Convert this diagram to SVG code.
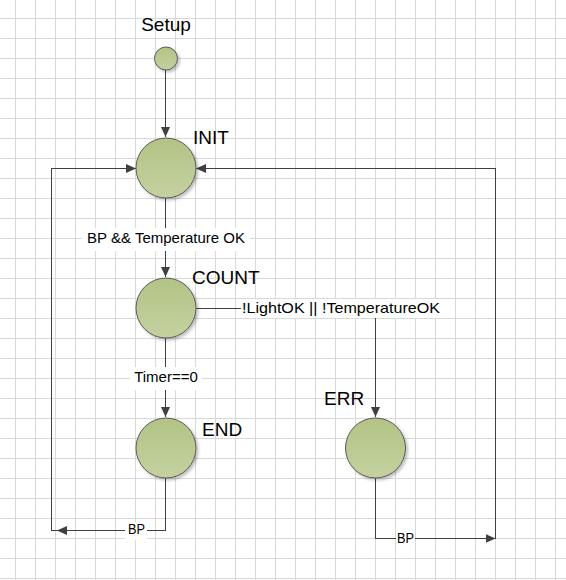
<svg xmlns="http://www.w3.org/2000/svg" width="566" height="580" viewBox="0 0 566 580">
<defs>
<style>
.grid{stroke:#d9d9d9;stroke-width:1;fill:none;shape-rendering:crispEdges}
.st{stroke:#5a5a5a;stroke-width:1;fill:url(#g);filter:url(#sh)}
.conn{stroke:#404040;stroke-width:1;fill:none;shape-rendering:crispEdges}
.nl{font-family:"Liberation Sans",Arial,sans-serif;font-size:19px;fill:#000}
.el{font-family:"Liberation Sans",Arial,sans-serif;font-size:15px;fill:#000}
.bg{fill:#fff}
</style>
<linearGradient id="g" x1="0" y1="0" x2="0" y2="1">
<stop offset="0" stop-color="#b3c385"/>
<stop offset="1" stop-color="#c4d1a0"/>
</linearGradient>
<filter id="sh" x="-30%" y="-30%" width="160%" height="160%">
<feDropShadow dx="2" dy="2" stdDeviation="1.5" flood-color="#000" flood-opacity="0.25"/>
</filter>
<marker id="arr" markerUnits="userSpaceOnUse" markerWidth="10" markerHeight="9" refX="10" refY="4.5" orient="auto">
<path d="M0,0 L10,4.5 L0,9 z" fill="#404040"/>
</marker>
</defs>
<rect width="566" height="580" fill="#fff"/>
<path class="grid" d="M15.5,0V580M35.5,0V580M55.5,0V580M75.5,0V580M95.5,0V580M115.5,0V580M135.5,0V580M155.5,0V580M175.5,0V580M195.5,0V580M215.5,0V580M235.5,0V580M255.5,0V580M275.5,0V580M295.5,0V580M315.5,0V580M335.5,0V580M355.5,0V580M375.5,0V580M395.5,0V580M415.5,0V580M435.5,0V580M455.5,0V580M475.5,0V580M495.5,0V580M515.5,0V580M535.5,0V580M555.5,0V580M0,18.5H566M0,38.5H566M0,58.5H566M0,78.5H566M0,98.5H566M0,118.5H566M0,138.5H566M0,158.5H566M0,178.5H566M0,198.5H566M0,218.5H566M0,238.5H566M0,258.5H566M0,278.5H566M0,298.5H566M0,318.5H566M0,338.5H566M0,358.5H566M0,378.5H566M0,398.5H566M0,418.5H566M0,438.5H566M0,458.5H566M0,478.5H566M0,498.5H566M0,518.5H566M0,538.5H566M0,558.5H566M0,578.5H566"/>
<g id="connectors">
<path class="conn" d="M165.5,69V137" marker-end="url(#arr)"/>
<path class="conn" d="M165.5,198V277" marker-end="url(#arr)"/>
<path class="conn" d="M165.5,338V417" marker-end="url(#arr)"/>
<path class="conn" d="M196,308.5H375.5V417" marker-end="url(#arr)"/>
<path class="conn" d="M165.5,478V530.5H57" marker-end="url(#arr)"/>
<path class="conn" d="M57,530.5H51.5V168.5H136" marker-end="url(#arr)"/>
<path class="conn" d="M375.5,478V538.5H495.5" marker-end="url(#arr)"/>
<path class="conn" d="M495.5,538.5V168.5H196" marker-end="url(#arr)"/>
<g id="label-init-count">
<rect class="bg" x="82" y="228" width="168" height="23"/>
<text class="el" x="166" y="243" text-anchor="middle">BP &amp;&amp; Temperature OK</text>
</g>
<g id="label-count-err">
<rect class="bg" x="241" y="299" width="201" height="19"/>
<text class="el" x="242" y="313" textLength="198" lengthAdjust="spacingAndGlyphs">!LightOK || !TemperatureOK</text>
</g>
<g id="label-count-end">
<rect class="bg" x="130" y="367" width="72" height="23"/>
<text class="el" x="166" y="382" text-anchor="middle">Timer==0</text>
</g>
<g id="label-end-init">
<rect class="bg" x="125" y="522" width="22" height="18"/>
<text class="el" x="128" y="534" textLength="17" lengthAdjust="spacingAndGlyphs">BP</text>
</g>
<g id="label-err-init">
<rect class="bg" x="396" y="530" width="19" height="17"/>
<text class="el" x="397" y="543" textLength="17" lengthAdjust="spacingAndGlyphs">BP</text>
</g>
</g>
<g id="setup">
<circle class="st" cx="166" cy="58.5" r="11.5"/>
<text class="nl" x="166" y="31" text-anchor="middle">Setup</text>
</g>
<g id="init">
<circle class="st" cx="166" cy="168" r="30"/>
<text class="nl" x="193" y="144">INIT</text>
</g>
<g id="count">
<circle class="st" cx="166" cy="308" r="30"/>
<text class="nl" x="192" y="284">COUNT</text>
</g>
<g id="end">
<circle class="st" cx="166" cy="448" r="30"/>
<text class="nl" x="202" y="436">END</text>
</g>
<g id="err">
<circle class="st" cx="375.5" cy="448" r="30"/>
<text class="nl" x="324" y="405">ERR</text>
</g>
</svg>
